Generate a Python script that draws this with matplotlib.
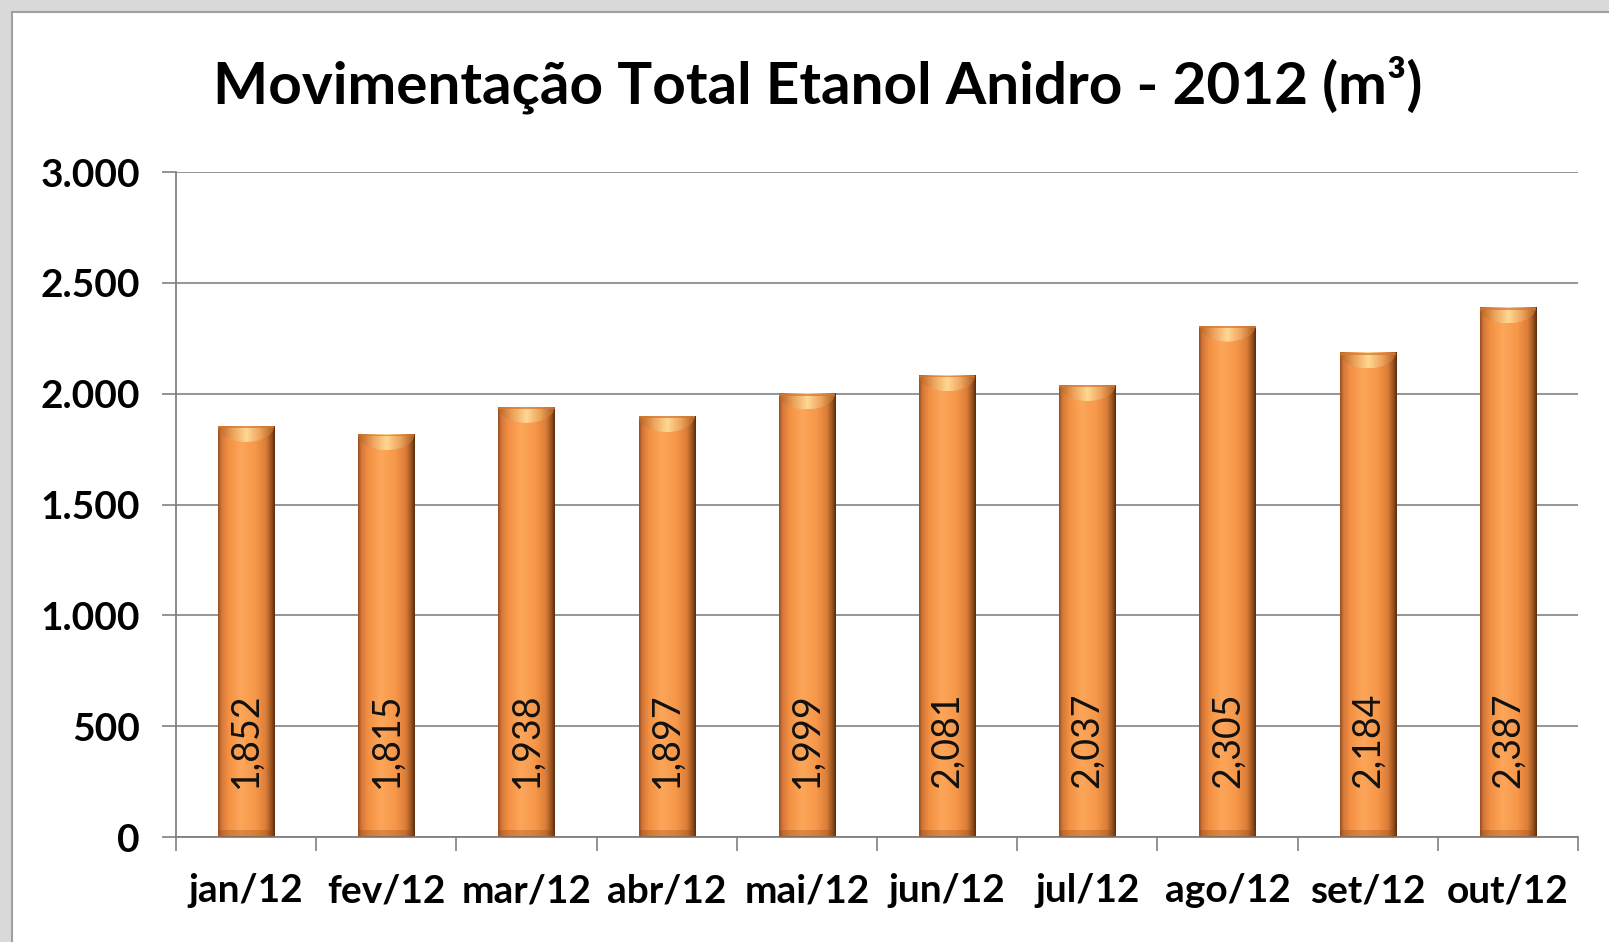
import numpy as np
import matplotlib
matplotlib.use("Agg")
from matplotlib import pyplot as plt
from matplotlib.colors import LinearSegmentedColormap
from matplotlib.patches import Rectangle, Ellipse
from matplotlib.ticker import FuncFormatter

plt.rcParams['font.family'] = ['Lato', 'DejaVu Sans']

months = ['jan/12', 'fev/12', 'mar/12', 'abr/12', 'mai/12',
          'jun/12', 'jul/12', 'ago/12', 'set/12', 'out/12']
volumes = [1852, 1815, 1938, 1897, 1999, 2081, 2037, 2305, 2184, 2387]
bar_labels = ['1,852', '1,815', '1,938', '1,897', '1,999',
              '2,081', '2,037', '2,305', '2,184', '2,387']
yticks = [0, 500, 1000, 1500, 2000, 2500, 3000]

fig = plt.figure(figsize=(16.09, 9.42), dpi=100)
fig.patch.set_facecolor('#d9d9d9')
# white chart area with thin border (like the excel frame)
fig.patches.append(Rectangle((12/1609, -0.01), 1.02, 1 - 12/942 + 0.01,
                             transform=fig.transFigure, facecolor='white',
                             edgecolor='#a0a0a0', lw=1.5, zorder=-5))

ax = fig.add_axes([176/1609, 1 - 837/942, 1402/1609, 665/942])
ax.set_facecolor('none')
ax.set_zorder(2)

x = np.arange(len(months))
bars = ax.bar(x, volumes, width=0.4, color='none', edgecolor='none', zorder=2)

# cylinder-like shading
cyl = LinearSegmentedColormap.from_list('cyl', [
    (0.0, '#9a5020'), (0.06, '#d5773a'), (0.18, '#f39042'),
    (0.4, '#fca65a'), (0.65, '#f7984a'), (0.84, '#dc7e38'),
    (0.94, '#98521e'), (1.0, '#5a2d0e')])
capmap = LinearSegmentedColormap.from_list('cap', [
    (0.0, '#b8621f'), (0.25, '#eda15a'), (0.5, '#ffd892'),
    (0.75, '#eda15a'), (1.0, '#a9581c')])
grad = np.linspace(0, 1, 200).reshape(1, -1)
for b in bars:
    bx, bw, bh = b.get_x(), b.get_width(), b.get_height()
    ax.imshow(grad, cmap=cyl, aspect='auto', extent=(bx, bx + bw, 0, bh),
              zorder=2, interpolation='bilinear')
    # top bevel: light crescent clipped to half ellipse
    ell = Ellipse((bx + bw/2, bh), bw, 140, transform=ax.transData)
    cap = ax.imshow(grad, cmap=capmap, aspect='auto',
                    extent=(bx, bx + bw, bh - 70, bh), zorder=3,
                    interpolation='bilinear')
    cap.set_clip_path(ell)
    ax.add_patch(Rectangle((bx, bh - 8), bw, 8, facecolor='#d37832',
                           edgecolor='none', alpha=0.7, zorder=3))
    # darker bottom bevel
    ax.add_patch(Rectangle((bx, 0), bw, 30, facecolor='#8a4617',
                           edgecolor='none', alpha=0.3, zorder=3))

for xi, lab in zip(x, bar_labels):
    ax.text(xi, 435, lab, rotation=90, ha='center', va='center',
            fontsize=27, color='#111111', zorder=4)

ax.set_xlim(-0.5, len(months) - 0.5)
ax.set_ylim(0, 3000)
ax.set_yticks(yticks)
ax.yaxis.set_major_formatter(FuncFormatter(lambda v, p: f'{int(v):,}'.replace(',', '.')))
ax.set_xticks(x)
ax.set_xticklabels(months)
ax.set_xticks(np.arange(-0.5, len(months)), minor=True)
ax.tick_params(axis='x', which='major', length=0, pad=26, labelsize=28)
ax.tick_params(axis='x', which='minor', length=10, color='#808080', width=1.2)
ax.tick_params(axis='y', length=10, color='#808080', width=1.2, pad=16, labelsize=28)
for lab in ax.get_xticklabels() + ax.get_yticklabels():
    lab.set_fontweight('bold')

ax.grid(axis='y', color='#8c8c8c', lw=1.3, zorder=1)
ax.set_axisbelow(True)
for s in ['top', 'right']:
    ax.spines[s].set_visible(False)
ax.spines['left'].set_color('#808080')
ax.spines['bottom'].set_color('#808080')
ax.spines['left'].set_linewidth(1.3)
ax.spines['bottom'].set_linewidth(1.3)

fig.text(0.508, 0.91, 'Movimentação Total Etanol Anidro - 2012 (m³)',
         ha='center', va='center', fontsize=42, fontweight='bold')

fig.savefig('out.png', dpi=100, facecolor=fig.get_facecolor())
